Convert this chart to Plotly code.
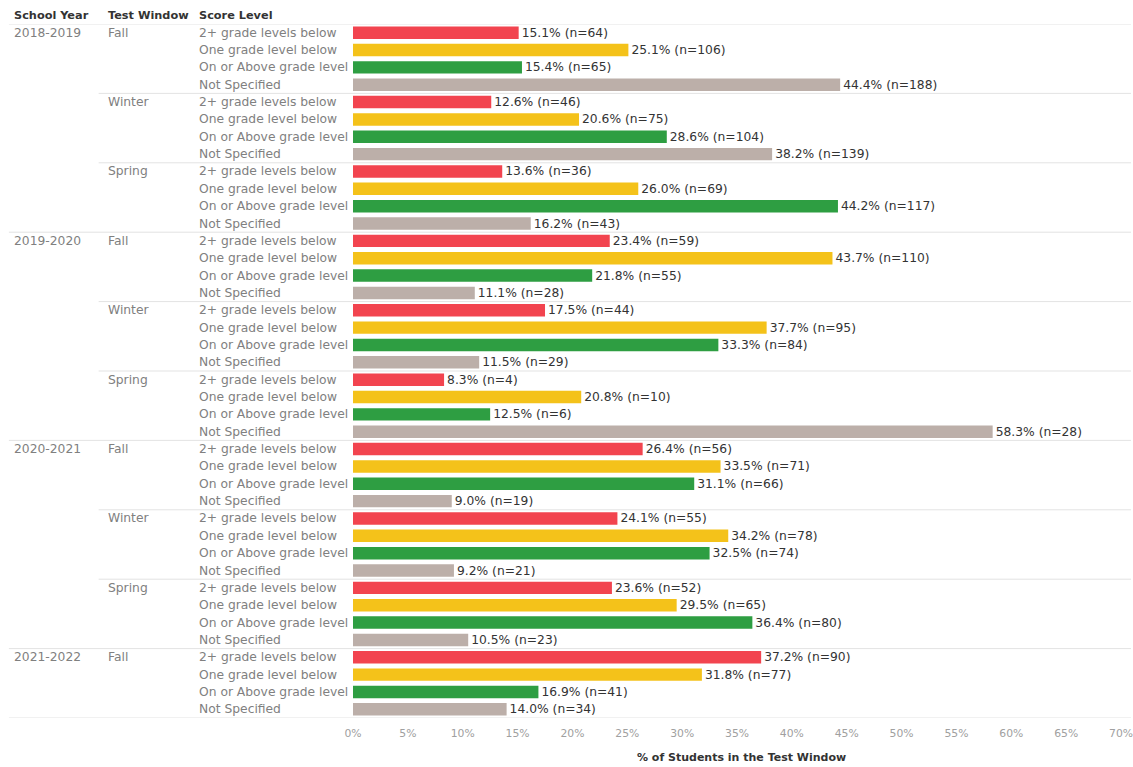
import plotly.graph_objects as go

# ---- data -------------------------------------------------------------
school_years = ["2018-2019", "2019-2020", "2020-2021", "2021-2022"]
windows_by_year = [
    ["Fall", "Winter", "Spring"],
    ["Fall", "Winter", "Spring"],
    ["Fall", "Winter", "Spring"],
    ["Fall"],
]
score_levels = [
    "2+ grade levels below",
    "One grade level below",
    "On or Above grade level",
    "Not Specified",
]
level_colors = ["#F2444F", "#F4C21A", "#2E9E42", "#BCAFA9"]

# percent of students per (year, window), in score-level order
pct_values = [
    [15.1, 25.1, 15.4, 44.4],  # 2018-2019 Fall
    [12.6, 20.6, 28.6, 38.2],  # 2018-2019 Winter
    [13.6, 26.0, 44.2, 16.2],  # 2018-2019 Spring
    [23.4, 43.7, 21.8, 11.1],  # 2019-2020 Fall
    [17.5, 37.7, 33.3, 11.5],  # 2019-2020 Winter
    [8.3, 20.8, 12.5, 58.3],   # 2019-2020 Spring
    [26.4, 33.5, 31.1, 9.0],   # 2020-2021 Fall
    [24.1, 34.2, 32.5, 9.2],   # 2020-2021 Winter
    [23.6, 29.5, 36.4, 10.5],  # 2020-2021 Spring
    [37.2, 31.8, 16.9, 14.0],  # 2021-2022 Fall
]
n_counts = [
    [64, 106, 65, 188],
    [46, 75, 104, 139],
    [36, 69, 117, 43],
    [59, 110, 55, 28],
    [44, 95, 84, 29],
    [4, 10, 6, 28],
    [56, 71, 66, 19],
    [55, 78, 74, 21],
    [52, 65, 80, 23],
    [90, 77, 41, 34],
]
x_ticks = list(range(0, 71, 5))

# ---- geometry ---------------------------------------------------------
W, H = 1133, 767
PL, PR, PT, PB = 353, 0, 24, 49
plot_w = W - PL - PR
plot_h = H - PT - PB
PX_PER_PCT = 11.0
x_max = plot_w / PX_PER_PCT


def px_to_xpaper(px):
    return (px - PL) / plot_w


def py_to_ypaper(py):
    return 1 - (py - PT) / plot_h


FONT = "DejaVu Sans"
LABEL_SIZE = 12.3
LABEL_GRAY = "#808080"
HEAD_GRAY = "#333333"
LINE_GRAY = "#e3e3e3"

# ---- rows -------------------------------------------------------------
rows = []  # (year_idx, window_group_idx, window_name, level_idx)
g = 0
for yi, wins in enumerate(windows_by_year):
    for wn in wins:
        for li in range(len(score_levels)):
            rows.append((yi, g, wn, li))
        g += 1
n_rows = len(rows)

fig = go.Figure()

for li, level in enumerate(score_levels):
    ys, xs, txt = [], [], []
    for ri, (yi, gi, wn, l) in enumerate(rows):
        if l != li:
            continue
        p = pct_values[gi][li]
        n = n_counts[gi][li]
        ys.append(ri)
        xs.append(p)
        txt.append(f"{p:.1f}% (n={n})")
    fig.add_trace(go.Bar(
        x=xs, y=ys, orientation="h", width=0.72,
        marker=dict(color=level_colors[li], line=dict(width=0)),
        text=txt, textposition="outside", cliponaxis=False,
        constraintext="none",
        textfont=dict(family=FONT, size=12.3, color="#333333"),
        name=level, showlegend=False, hoverinfo="skip",
    ))

annotations = []
shapes = []

# column headers
for label, px in [("School Year", 11), ("Test Window", 105), ("Score Level", 197)]:
    annotations.append(dict(
        text=label, x=px_to_xpaper(px), y=py_to_ypaper(15),
        xref="paper", yref="paper", xanchor="left", yanchor="middle",
        showarrow=False, font=dict(family=FONT, size=11.3, color=HEAD_GRAY, weight=600),
    ))

prev_year, prev_win = None, None
for ri, (yi, gi, wn, li) in enumerate(rows):
    if yi != prev_year:
        annotations.append(dict(
            text=school_years[yi], x=px_to_xpaper(11), y=ri, xref="paper", yref="y",
            xanchor="left", yanchor="middle", showarrow=False,
            font=dict(family=FONT, size=LABEL_SIZE, color=LABEL_GRAY),
        ))
        if ri > 0:
            shapes.append(dict(type="line", xref="paper", yref="y",
                               x0=px_to_xpaper(8), x1=1, y0=ri - 0.5, y1=ri - 0.5,
                               line=dict(color=LINE_GRAY, width=1)))
    if gi != prev_win:
        annotations.append(dict(
            text=wn, x=px_to_xpaper(105), y=ri, xref="paper", yref="y",
            xanchor="left", yanchor="middle", showarrow=False,
            font=dict(family=FONT, size=LABEL_SIZE, color=LABEL_GRAY),
        ))
        if ri > 0 and yi == prev_year:
            shapes.append(dict(type="line", xref="paper", yref="y",
                               x0=px_to_xpaper(98), x1=1, y0=ri - 0.5, y1=ri - 0.5,
                               line=dict(color=LINE_GRAY, width=1)))
    annotations.append(dict(
        text=score_levels[li], x=px_to_xpaper(197), y=ri, xref="paper", yref="y",
        xanchor="left", yanchor="middle", showarrow=False,
        font=dict(family=FONT, size=LABEL_SIZE, color=LABEL_GRAY),
    ))
    prev_year, prev_win = yi, gi

# top and bottom rules
for yv in (-0.5, n_rows - 0.5):
    shapes.append(dict(type="line", xref="paper", yref="y",
                       x0=px_to_xpaper(8), x1=1, y0=yv, y1=yv,
                       line=dict(color=LINE_GRAY, width=1)))

# axis title
annotations.append(dict(
    text="% of Students in the Test Window", x=px_to_xpaper(742), y=py_to_ypaper(757),
    xref="paper", yref="paper", xanchor="center", yanchor="middle", showarrow=False,
    font=dict(family=FONT, size=11, color=HEAD_GRAY, weight=600),
))

fig.update_layout(
    width=W, height=H,
    margin=dict(l=PL, r=PR, t=PT, b=PB, pad=0),
    paper_bgcolor="white", plot_bgcolor="white",
    barmode="overlay",
    xaxis=dict(range=[0, x_max], tickvals=x_ticks, ticktext=[f"{v}%" for v in x_ticks],
               showgrid=False, zeroline=False, showline=False, ticks="",
               ticklabeloverflow="allow", ticklabelstandoff=7,
               tickfont=dict(family=FONT, size=10.8, color="#a0a0a0"), fixedrange=True),
    yaxis=dict(range=[n_rows - 0.5, -0.5], showticklabels=False, showgrid=False,
               zeroline=False, showline=False, ticks="", fixedrange=True),
    annotations=annotations, shapes=shapes,
)

fig.write_html("out.html")
